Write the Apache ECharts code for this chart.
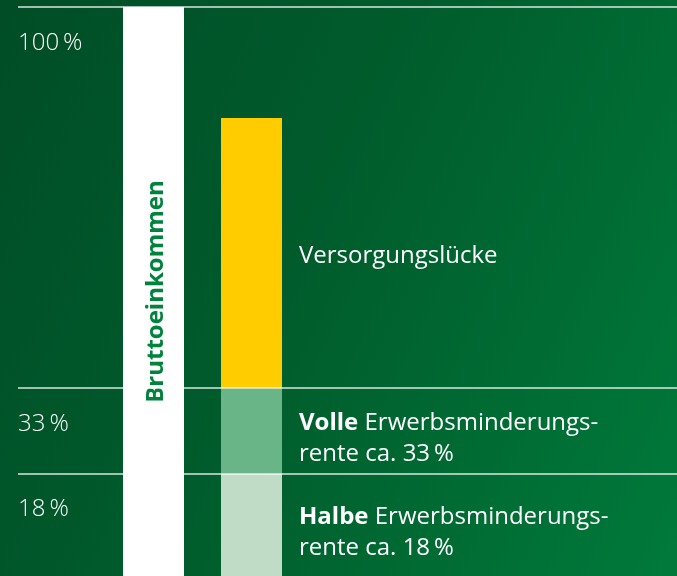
<!DOCTYPE html>
<html>
<head>
<meta charset="utf-8">
<script src="https://cdn.jsdelivr.net/npm/echarts@6/dist/echarts.min.js"></script>
<style>
html,body{margin:0;padding:0;}
#c{width:677px;height:576px;background:linear-gradient(115deg,#004d26 0%,#005c2c 45%,#007a3b 100%);}
</style>
</head>
<body>
<div id="c"></div>
<script>
// ---- data ----
const categories = ['Bruttoeinkommen', 'Rente'];
const tickValues = [18, 33, 100];
const tickLabels = ['18\u2009%', '33\u2009%', '100\u2009%'];
const bruttoValues = [100, '-'];
const halbeValues = ['-', 18];      // 0 - 18 %
const volleValues = ['-', 15];      // 18 - 33 %
const lueckeValues = ['-', 47.5];   // 33 - ~80 %
const halbeText = ['{b|Halbe} Erwerbsminderungs-', 'rente ca. 18\u2009%'];
const volleText = ['{b|Volle} Erwerbsminderungs-', 'rente ca. 33\u2009%'];
const lueckeText = 'Versorgungslücke';

const FONT = 'Open Sans';
const FS = 24;
const chart = echarts.init(document.getElementById('c'));
const sideLabel = (txt) => ({
  show: true, position: 'right', distance: 17, color: '#ffffff',
  fontFamily: FONT, fontSize: FS, lineHeight: 31, offset: [0, 8],
  formatter: () => txt,
  rich: { b: { fontWeight: 'bold', fontFamily: FONT, fontSize: FS, color: '#ffffff', lineHeight: 31 } }
});
chart.setOption({
  backgroundColor: 'transparent',
  animation: false,
  grid: [
    { left: 18, right: 0, top: 7, height: 570 },
    { left: 104.5, width: 196, top: 7, height: 570 }
  ],
  xAxis: [
    { type: 'category', gridIndex: 0, data: [''], show: false },
    { type: 'category', gridIndex: 1, data: categories, show: false }
  ],
  yAxis: [
    { type: 'value', gridIndex: 0, min: 0, max: 100,
      axisLine: { show: false }, axisTick: { show: false }, splitLine: { show: false },
      axisLabel: { show: true, inside: true, margin: 0, customValues: tickValues,
        verticalAlign: 'top', padding: [24, 0, 0, 0],
        color: '#ffffff', fontFamily: FONT, fontSize: FS, fontWeight: 300,
        formatter: (v) => tickLabels[tickValues.indexOf(v)] } },
    { type: 'value', gridIndex: 1, min: 0, max: 100, show: false }
  ],
  series: [
    { type: 'line', xAxisIndex: 0, yAxisIndex: 0, data: [], silent: true,
      markLine: { silent: true, symbol: 'none', label: { show: false },
        lineStyle: { color: 'rgba(255,255,255,0.85)', width: 1.5, type: 'solid' },
        data: tickValues.map(v => ({ yAxis: v })) } },
    { type: 'bar', name: categories[0], xAxisIndex: 1, yAxisIndex: 1, stack: 's', barWidth: 61,
      data: bruttoValues, itemStyle: { color: '#ffffff' },
      label: { show: true, position: 'inside', rotate: 90, color: '#00843d', offset: [0, 3],
        fontFamily: FONT, fontWeight: 'bold', fontSize: FS, formatter: categories[0] } },
    { type: 'bar', name: 'Halbe', xAxisIndex: 1, yAxisIndex: 1, stack: 's', barWidth: 61,
      data: halbeValues, itemStyle: { color: '#c0dcc6' }, label: sideLabel(halbeText.join('\n')) },
    { type: 'bar', name: 'Volle', xAxisIndex: 1, yAxisIndex: 1, stack: 's', barWidth: 61,
      data: volleValues, itemStyle: { color: '#6ab587' }, label: sideLabel(volleText.join('\n')) },
    { type: 'bar', name: lueckeText, xAxisIndex: 1, yAxisIndex: 1, stack: 's', barWidth: 61,
      data: lueckeValues, itemStyle: { color: '#ffcc00' },
      label: { show: true, position: 'right', distance: 17, color: '#ffffff', fontFamily: FONT,
        fontSize: FS, offset: [0, 3], formatter: lueckeText } }
  ]
});
</script>
</body>
</html>
